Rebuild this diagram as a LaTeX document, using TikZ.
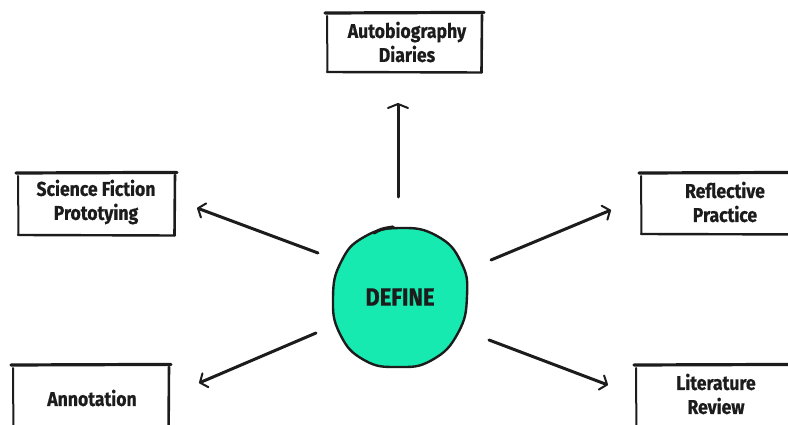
\documentclass[tikz,border=0pt]{standalone}
\usepackage{fontspec}
\newfontfamily\lbl{Fira Sans}[FakeStretch=0.88, FakeBold=0.6]
\usetikzlibrary{arrows.meta}
\definecolor{mint}{HTML}{17EAB0}
\definecolor{ink}{HTML}{1C1C1C}
\tikzset{
  label box/.style={draw=none, align=center, inner sep=0pt,
    font=\lbl\bfseries\fontsize{20}{24}\selectfont, text=ink},
  edge top/.style={ink, line width=3.2pt, line cap=round},
  edge side/.style={ink, line width=2pt, line cap=round},
  edge right/.style={ink, line width=2.6pt, line cap=round},
  edge bottom/.style={ink, line width=2.4pt, line cap=round},
  pointer/.style={ink, line width=3pt, line cap=round,
    -{Straight Barb[length=6pt,width=15pt,line width=2pt,round]}},
}
% sketchy frame round a label node: #1 node, top y, bottom y, left x, right x
\newcommand{\sketchframe}[5]{%
  \draw[edge top] (#4-2,#2) -- (#5+2,#2-0.6);
  \draw[edge side] (#4,#2+3) -- (#4+0.5,#3);
  \draw[edge right] (#5,#2+2) -- (#5-0.5,#3);
  \draw[edge bottom] (#4,#3) -- (#5,#3+0.5);
}
\begin{document}
\begin{tikzpicture}[x=1pt,y=-1pt]
\useasboundingbox (0,0) rectangle (788,425);
\fill[white] (0,0) rectangle (788,425);

% labels
\node[label box] (auto) at (407,42) {Autobiography\\Diaries};
\node[label box] (scifi) at (96,202) {Science Fiction\\Prototying};
\node[label box] (refl) at (725,202) {Reflective\\Practice};
\node[label box] (annot) at (92,398) {Annotation};
\node[label box] (lit) at (716,394) {Literature\\Review};

% frames
\sketchframe{auto}{13}{72}{327}{482}
\sketchframe{scifi}{173}{235}{18}{175}
\sketchframe{refl}{173}{234}{641}{810}
\sketchframe{annot}{365}{440}{13}{169}
\sketchframe{lit}{365}{440}{636}{800}

% centre blob
\draw[ink, line width=2.4pt, fill=mint]
  plot[smooth cycle, tension=0.8] coordinates {
    (400,228) (437,236) (461,262) (467,296) (458,333)
    (432,360) (398,367) (364,360) (340,334) (333,298)
    (341,262) (364,237)};
\draw[ink, line width=3.2pt, line cap=round] (374,233) .. controls (381,229) .. (393,227);
\node[font=\lbl\bfseries\fontsize{25}{28}\selectfont, text=ink] (def) at (400,297) {DEFINE};

% pointer ends
\coordinate (pA0) at (398,197); \coordinate (pA1) at (398,103);
\coordinate (pB0) at (318,253); \coordinate (pB1) at (197,208);
\coordinate (pC0) at (316,333); \coordinate (pC1) at (199,383);
\coordinate (pD0) at (491,260); \coordinate (pD1) at (611,210);
\coordinate (pE0) at (489,340); \coordinate (pE1) at (608,385);

\draw[pointer, -{Straight Barb[length=4pt,width=20pt,line width=2pt,round]}] (pA0) -- (pA1);
\draw[pointer] (pB0) -- (pB1);
\draw[pointer] (pC0) -- (pC1);
\draw[pointer] (pD0) -- (pD1);
\draw[pointer] (pE0) -- (pE1);
\end{tikzpicture}
\end{document}
